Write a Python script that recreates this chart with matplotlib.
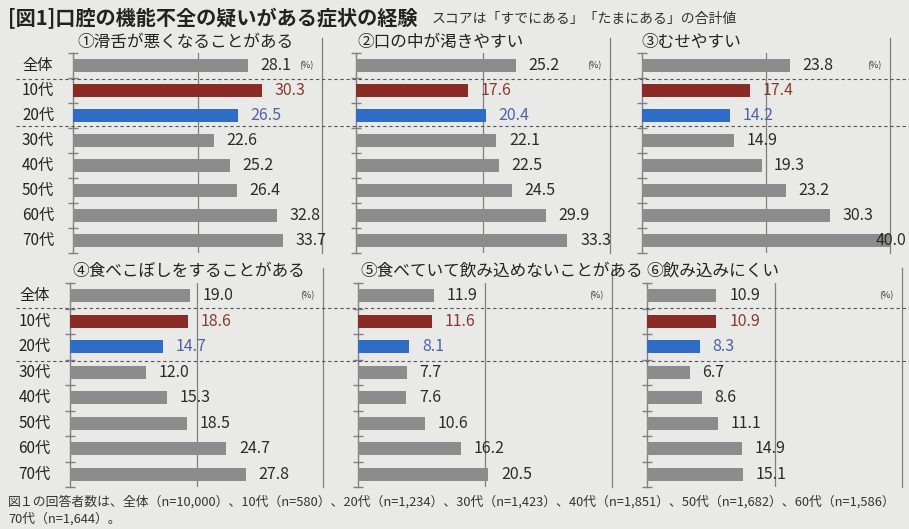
import matplotlib
matplotlib.use("Agg")
import matplotlib.pyplot as plt
from matplotlib.lines import Line2D

plt.rcParams['font.family'] = ['Noto Sans CJK JP', 'DejaVu Sans']

categories = ['全体', '10代', '20代', '30代', '40代', '50代', '60代', '70代']
titles = ['①滑舌が悪くなることがある', '②口の中が渇きやすい', '③むせやすい',
          '④食べこぼしをすることがある', '⑤食べていて飲み込めないことがある', '⑥飲み込みにくい']
p1 = [28.1, 30.3, 26.5, 22.6, 25.2, 26.4, 32.8, 33.7]
p2 = [25.2, 17.6, 20.4, 22.1, 22.5, 24.5, 29.9, 33.3]
p3 = [23.8, 17.4, 14.2, 14.9, 19.3, 23.2, 30.3, 40.0]
p4 = [19.0, 18.6, 14.7, 12.0, 15.3, 18.5, 24.7, 27.8]
p5 = [11.9, 11.6, 8.1, 7.7, 7.6, 10.6, 16.2, 20.5]
p6 = [10.9, 10.9, 8.3, 6.7, 8.6, 11.1, 14.9, 15.1]
series = [p1, p2, p3, p4, p5, p6]

W, H = 909, 529
BG = '#e9e9e8'
fig = plt.figure(figsize=(W / 100, H / 100), dpi=100, facecolor=BG)

def fx(x):
    return x / W

def fy(y):
    return 1 - y / H

# (left px of 0, px of 40, top px, bottom px)
boxes = [(73, 322, 53, 253), (356, 610, 53, 253), (642, 890, 53, 253),
         (70, 323, 283, 487), (358, 612, 283, 487), (647, 902, 283, 487)]
title_pos = [(77, 42), (357, 42), (641, 42), (72, 271), (360, 271), (646, 271)]

bar_colors = ['#8c8c8c', '#8b2b26', '#2f6cc6'] + ['#8c8c8c'] * 5
lab_colors = ['#2b2b2b', '#8a3a2c', '#4d62a8'] + ['#2b2b2b'] * 5
line_c = '#808080'

for i, (vals, box) in enumerate(zip(series, boxes)):
    l, r, t, b = box
    ax = fig.add_axes([fx(l), fy(b), fx(r) - fx(l), (b - t) / H])
    ax.set_facecolor('none')
    ypos = list(range(len(categories)))
    ax.barh(ypos, vals, height=0.52, color=bar_colors, zorder=3)
    ax.set_xlim(0, 40)
    ax.set_ylim(7.5, -0.5)
    for sp in ['top', 'right', 'bottom']:
        ax.spines[sp].set_visible(False)
    ax.spines['left'].set_color(line_c)
    ax.spines['left'].set_linewidth(1.0)
    ax.set_xticks([])
    ax.set_yticks([k - 0.5 for k in range(9)])
    ax.set_yticklabels([])
    ax.tick_params(axis='y', direction='inout', length=7, color=line_c, width=1)
    ax.axvline(20, color=line_c, lw=0.9, zorder=1)
    ax.plot([40, 40], [-1.1, 7.5], color=line_c, lw=0.9, clip_on=False, zorder=1)
    for y, v, c in zip(ypos, vals, lab_colors):
        xt = v + 2.0
        if xt > 38.5:
            xt = 37.7
        ax.text(xt, y, f'{v:.1f}', va='center', ha='left', fontsize=11.5,
                color=c, zorder=4, clip_on=False)
    ax.text(37.5, 0, '(%)', fontsize=6.5, va='center', ha='center', color='#333333')
    if i in (0, 3):
        for y, cat in zip(ypos, categories):
            ax.text(-5.6, y, cat, va='center', ha='center', fontsize=11,
                    color='#222222', clip_on=False)
    tx, ty = title_pos[i]
    fig.text(fx(tx), fy(ty), titles[i], fontsize=12, va='center', ha='left', color='#222222')

# dashed separators
for yy in [79, 126, 308, 361]:
    fig.add_artist(Line2D([fx(16), fx(909)], [fy(yy), fy(yy)], color='#555555',
                          lw=0.8, linestyle=(0, (3, 2.5))))

fig.text(fx(8), fy(19), '[図1]口腔の機能不全の疑いがある症状の経験', fontsize=14.5,
         fontweight='bold', va='center', ha='left', color='#222222')
fig.text(fx(432), fy(19), 'スコアは「すでにある」「たまにある」の合計値', fontsize=10,
         va='center', ha='left', color='#333333')

fig.text(fx(8), fy(502), '図１の回答者数は、全体（n=10,000）、10代（n=580）、20代（n=1,234）、30代（n=1,423）、'
         '40代（n=1,851）、50代（n=1,682）、60代（n=1,586）', fontsize=9.25,
         va='center', ha='left', color='#333333')
fig.text(fx(8), fy(519), '70代（n=1,644）。', fontsize=9.25, va='center', ha='left', color='#333333')

fig.savefig('out.png', dpi=100, facecolor=BG)
